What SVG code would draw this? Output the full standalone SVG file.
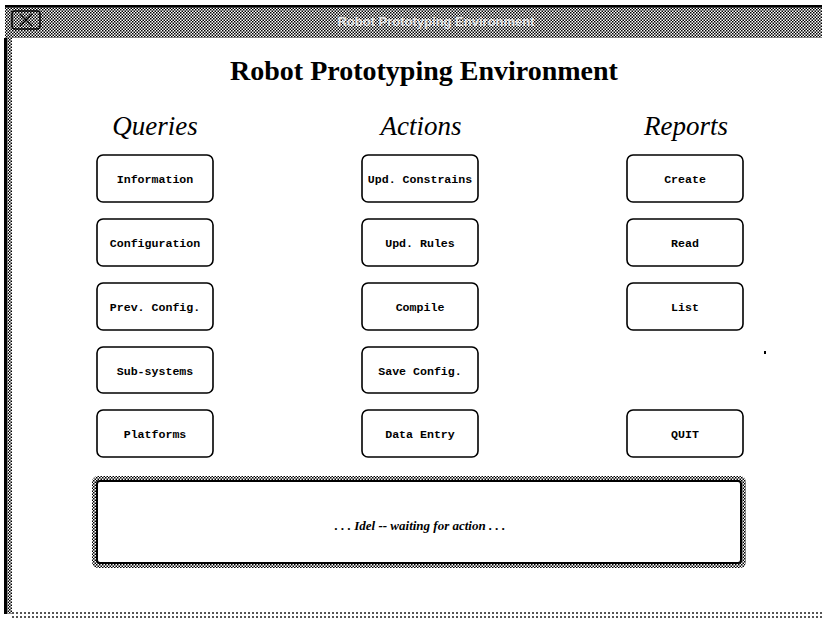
<svg xmlns="http://www.w3.org/2000/svg" width="822" height="620" viewBox="0 0 822 620">
  <defs>
    <pattern id="checker" width="3" height="3" patternUnits="userSpaceOnUse">
      <rect width="3" height="3" fill="#ffffff"/>
      <rect x="0" y="0" width="1.5" height="1.5" fill="#000"/>
      <rect x="1.5" y="1.5" width="1.5" height="1.5" fill="#000"/>
    </pattern>
    <pattern id="dots" width="4" height="4" patternUnits="userSpaceOnUse">
      <rect width="4" height="4" fill="#fff"/>
      <rect x="0" y="0" width="2" height="2" fill="#555"/>
    </pattern>
  </defs>
  <style>
    .btn rect { fill: #fff; stroke: #000; stroke-width: 1.6; }
    .btn text { font-family: "Liberation Mono", "DejaVu Sans Mono", monospace; font-weight: bold; font-size: 11.6px; text-anchor: middle; fill: #000; }
    .head { font-family: "Liberation Serif", "DejaVu Serif", serif; font-style: italic; font-size: 27px; text-anchor: middle; fill: #000; }
  </style>

  <!-- window background -->
  <rect width="822" height="620" fill="#fff"/>

  <!-- title bar -->
  <g id="titlebar">
    <rect x="5" y="6" width="817" height="32" fill="url(#checker)"/>
    <rect x="5" y="5" width="817" height="2.5" fill="#000"/>
    <rect x="12" y="11" width="28" height="18" rx="3" fill="url(#checker)" stroke="#000" stroke-width="1.5"/>
    <path d="M20 14 L32 26 M32 14 L20 26" stroke="#000" stroke-width="1.5" fill="none"/>
    <text x="436" y="26" font-family="Liberation Sans, Arial, sans-serif" font-weight="bold" font-size="13" fill="#fff" fill-opacity="0.8" text-anchor="middle">Robot Prototyping Environment</text>
  </g>

  <!-- left frame edge -->
  <g id="frame">
    <rect x="4" y="38" width="8" height="576" fill="url(#checker)"/>
    <rect x="4" y="38" width="3" height="576" fill="#000"/>
    <rect x="12" y="612" width="810" height="6" fill="url(#dots)"/>
  </g>

  <!-- heading -->
  <text id="title" x="424" y="80" font-family="Liberation Serif, DejaVu Serif, serif" font-weight="bold" font-size="28" text-anchor="middle" fill="#000">Robot Prototyping Environment</text>

  <text id="hdr-queries" class="head" x="155" y="135">Queries</text>
  <text id="hdr-actions" class="head" x="421" y="135">Actions</text>
  <text id="hdr-reports" class="head" x="686" y="135">Reports</text>

  <!-- Queries column -->
  <g id="btn-information" class="btn"><rect x="97" y="155" width="116" height="47" rx="6"/><text x="155" y="183">Information</text></g>
  <g id="btn-configuration" class="btn"><rect x="97" y="219" width="116" height="47" rx="6"/><text x="155" y="247">Configuration</text></g>
  <g id="btn-prevconfig" class="btn"><rect x="97" y="283" width="116" height="47" rx="6"/><text x="155" y="311">Prev. Config.</text></g>
  <g id="btn-subsystems" class="btn"><rect x="97" y="347" width="116" height="46" rx="6"/><text x="155" y="375">Sub-systems</text></g>
  <g id="btn-platforms" class="btn"><rect x="97" y="410" width="116" height="47" rx="6"/><text x="155" y="438">Platforms</text></g>

  <!-- Actions column -->
  <g id="btn-updconstrains" class="btn"><rect x="362" y="155" width="116" height="47" rx="6"/><text x="420" y="183">Upd. Constrains</text></g>
  <g id="btn-updrules" class="btn"><rect x="362" y="219" width="116" height="47" rx="6"/><text x="420" y="247">Upd. Rules</text></g>
  <g id="btn-compile" class="btn"><rect x="362" y="283" width="116" height="47" rx="6"/><text x="420" y="311">Compile</text></g>
  <g id="btn-saveconfig" class="btn"><rect x="362" y="347" width="116" height="46" rx="6"/><text x="420" y="375">Save Config.</text></g>
  <g id="btn-dataentry" class="btn"><rect x="362" y="410" width="116" height="47" rx="6"/><text x="420" y="438">Data Entry</text></g>

  <!-- Reports column -->
  <g id="btn-create" class="btn"><rect x="627" y="155" width="116" height="47" rx="6"/><text x="685" y="183">Create</text></g>
  <g id="btn-read" class="btn"><rect x="627" y="219" width="116" height="47" rx="6"/><text x="685" y="247">Read</text></g>
  <g id="btn-list" class="btn"><rect x="627" y="283" width="116" height="47" rx="6"/><text x="685" y="311">List</text></g>
  <g id="btn-quit" class="btn"><rect x="627" y="410" width="116" height="47" rx="6"/><text x="685" y="438">QUIT</text></g>

  <!-- stray mark -->
  <rect x="764" y="351" width="2" height="3" fill="#000"/>

  <!-- status line -->
  <g id="status">
    <rect x="92" y="476" width="654" height="92" rx="6" fill="url(#checker)"/>
    <rect x="97" y="481" width="644" height="82" rx="3" fill="#fff" stroke="#000" stroke-width="2"/>
    <text x="420" y="530" font-family="Liberation Serif, DejaVu Serif, serif" font-style="italic" font-weight="bold" font-size="13" text-anchor="middle" fill="#000">. . . Idel -- waiting for action . . .</text>
  </g>
</svg>
